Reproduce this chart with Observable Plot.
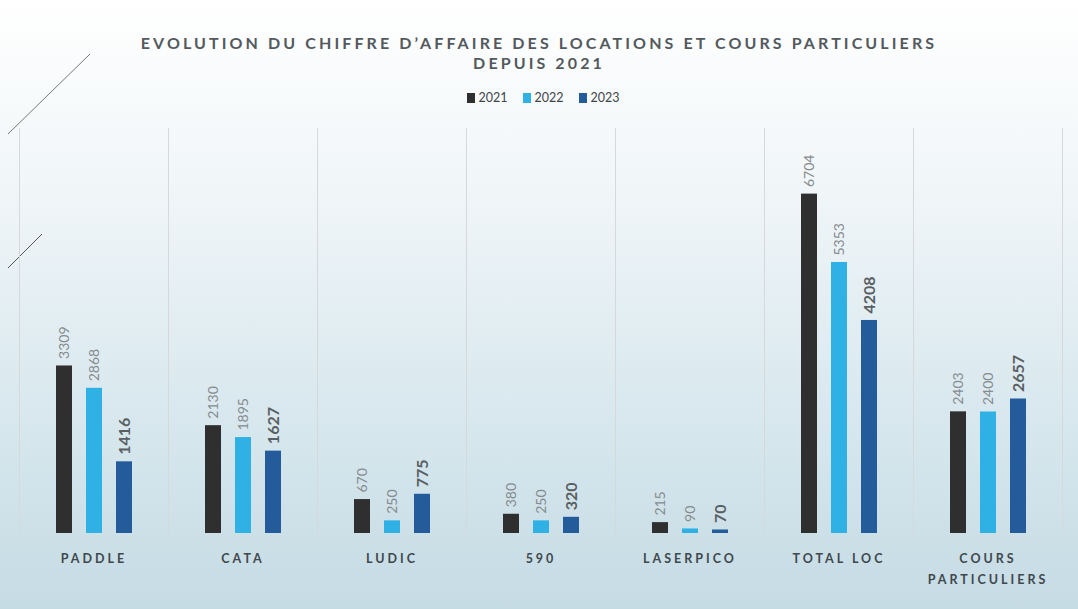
<!DOCTYPE html>
<html><head><meta charset="utf-8">
<script src="https://cdn.jsdelivr.net/npm/d3@7"></script>
<script src="https://cdn.jsdelivr.net/npm/@observablehq/plot@0.6"></script>
<style>
html,body{margin:0;padding:0;background:#fff;}
#wrap{position:relative;width:1078px;height:609px;overflow:hidden;background:linear-gradient(to bottom,#ffffff 0%,#f1f6f8 30%,#dae9ef 65%,#c5dbe4 100%);font-family:Lato,"Open Sans",sans-serif;}
#deco{position:absolute;left:0;top:0;}
#title{position:absolute;top:33px;left:0;width:1078px;text-align:center;font-size:16px;font-weight:700;color:#53595d;letter-spacing:3.1px;line-height:20px;}
#legend{position:absolute;top:90px;left:4px;width:1078px;display:flex;justify-content:center;gap:15px;font-size:12.5px;color:#3f4448;}
#legend span.item{display:flex;align-items:center;gap:4px;}
#legend i{display:inline-block;width:8px;height:10px;}
#chart{position:absolute;top:110px;left:0;}
#chart svg g[aria-label="fx-axis tick label"] text{letter-spacing:3px;}
</style>
</head><body>
<div id="wrap">
<svg id="deco" width="1078" height="609"><line x1="8" y1="134" x2="90" y2="54" stroke="#777" stroke-width="1"/><line x1="8" y1="268" x2="42" y2="234" stroke="#555" stroke-width="1"/></svg>
<div id="title">EVOLUTION DU CHIFFRE D’AFFAIRE DES LOCATIONS ET COURS PARTICULIERS<br>DEPUIS 2021</div>
<div id="legend"></div>
<div id="chart"></div>
</div>
<script>
const categories = ["PADDLE","CATA","LUDIC","590","LASERPICO","TOTAL LOC","COURS\nPARTICULIERS"];
const years = ["2021","2022","2023"];
const v2021 = [3309,2130,670,380,215,6704,2403];
const v2022 = [2868,1895,250,250,90,5353,2400];
const v2023 = [1416,1627,775,320,70,4208,2657];
const colors = ["#2f2f2f","#2fb1e6","#245c9b"];

const series = [v2021, v2022, v2023];
const data = [];
categories.forEach((c, i) => years.forEach((y, j) => data.push({cat: c, year: y, value: series[j][i]})));

const legend = document.getElementById("legend");
years.forEach((y, j) => {
  const s = document.createElement("span");
  s.className = "item";
  s.innerHTML = `<i style="background:${colors[j]}"></i>${y}`;
  legend.appendChild(s);
});

const chart = Plot.plot({
  width: 1078,
  height: 499,
  marginLeft: 18,
  marginRight: 16,
  marginTop: 18,
  marginBottom: 76,
  style: {background: "transparent", overflow: "visible", fontFamily: "Lato, sans-serif"},
  fx: {domain: categories, padding: 0, label: null},
  x: {domain: years, paddingInner: 0.48, paddingOuter: 1.15, axis: null},
  y: {domain: [0, 8000], axis: null},
  color: {domain: years, range: colors},
  marks: [
    Plot.frame({anchor: "left", stroke: "#d3d9dc"}),
    Plot.frame({anchor: "right", stroke: "#d3d9dc"}),
    Plot.barY(data, {fx: "cat", x: "year", y: "value", fill: "year"}),
    Plot.text(data.filter(d => d.year !== "2023"), {fx: "cat", x: "year", y: "value", text: d => String(d.value), rotate: -90, textAnchor: "start", dy: -7, fill: "#868b8e", fontSize: 14, fontWeight: 400}),
    Plot.text(data.filter(d => d.year === "2023"), {fx: "cat", x: "year", y: "value", text: d => String(d.value), rotate: -90, textAnchor: "start", dy: -7, fill: "#595f63", fontSize: 16, fontWeight: "bold"}),
    Plot.axisFx({anchor: "bottom", tickSize: 0, tickPadding: 14, fontSize: 12.5, fontWeight: "bold", fill: "#40484d", label: null, lineHeight: 1.7})
  ]
});
document.getElementById("chart").appendChild(chart);
</script>
</body></html>
